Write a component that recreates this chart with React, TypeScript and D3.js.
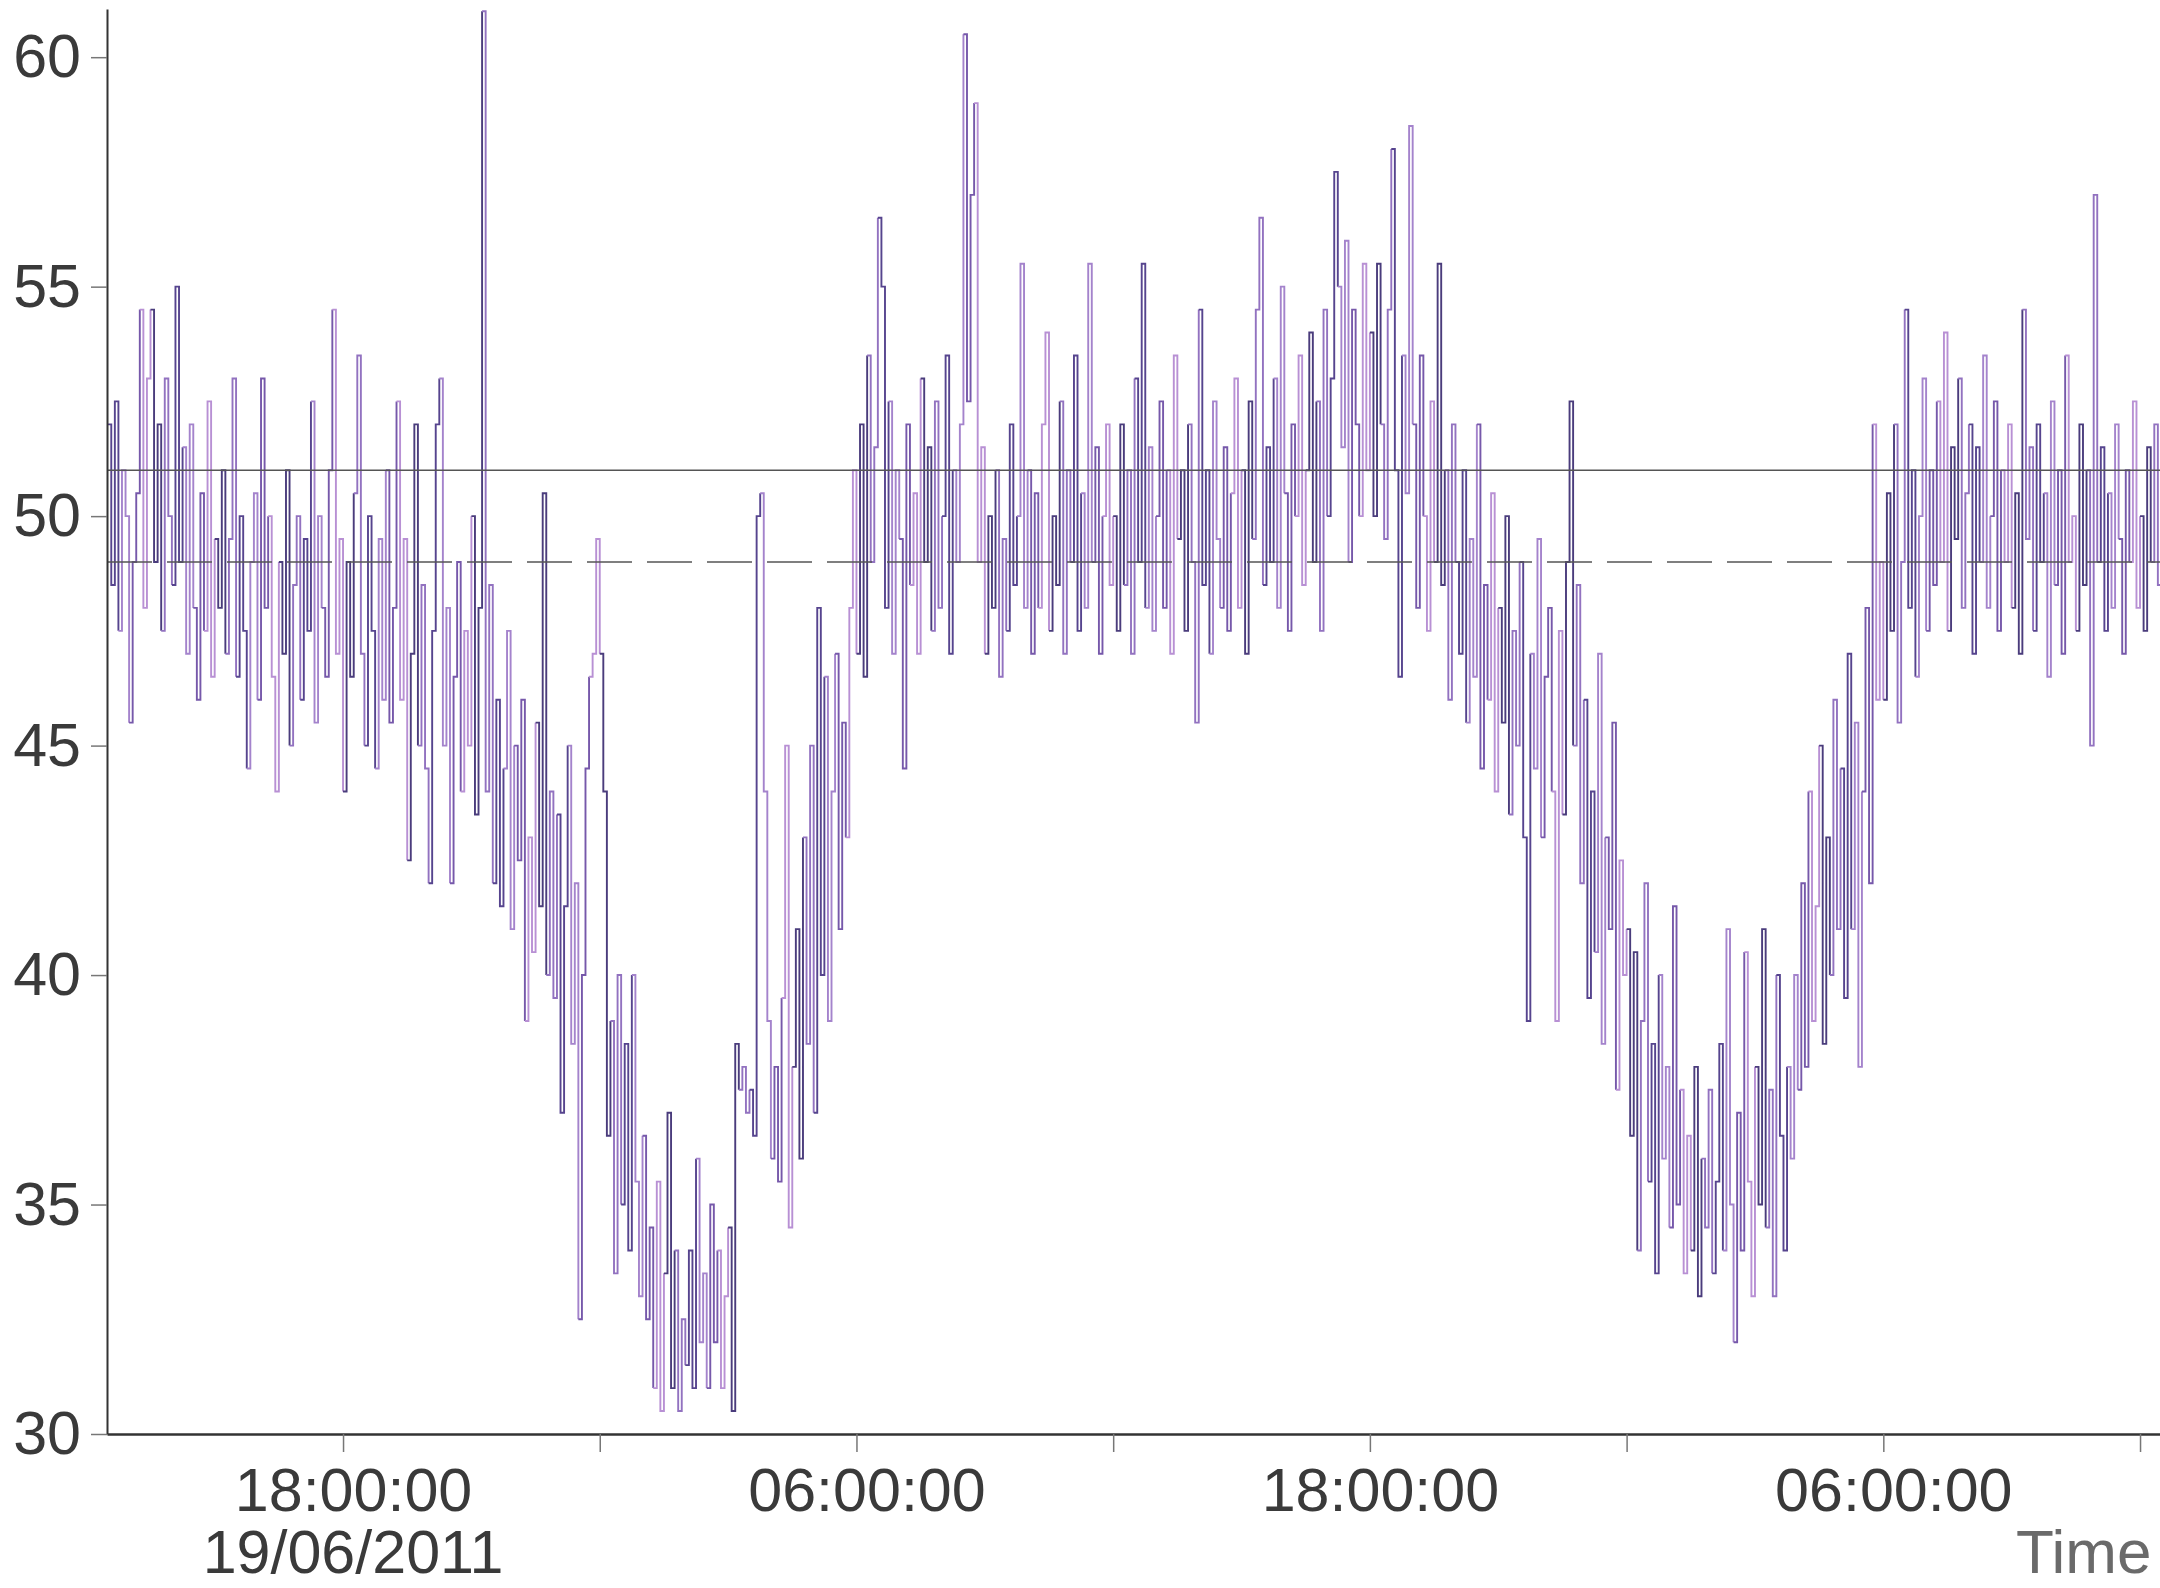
import { useEffect, useRef } from "react";
import * as d3 from "d3";

// readings every 5 minutes, one array per 6-hour block (start time in the name)
const d19_1230 = [
  52, 48.5, 52.5, 47.5, 51, 50, 45.5, 49,
  50.5, 54.5, 48, 53, 54.5, 49, 52, 47.5, 53, 50, 48.5, 55, 49,
  51.5, 47, 52, 48, 46, 50.5, 47.5, 52.5, 46.5, 49.5, 48, 51,
  47, 49.5, 53, 46.5, 50, 47.5, 44.5, 49, 50.5, 46, 53, 48, 50, 46.5, 44,
  49, 47, 51, 45, 48.5, 50, 46, 49.5, 47.5, 52.5, 45.5, 50, 48, 46.5, 51, 54.5, 47, 49.5,
];
const d19_1800 = [
  44, 49, 46.5, 50.5, 53.5, 47, 45, 50, 47.5, 44.5, 49.5, 46, 51, 45.5, 48, 52.5, 46,
  49.5, 42.5, 47, 52, 45, 48.5, 44.5, 42, 47.5, 52, 53, 45, 48, 42, 46.5, 49, 44, 47.5, 45,
  50, 43.5, 48, 61, 44, 48.5, 42, 46,
  41.5, 44.5, 47.5, 41, 45, 42.5, 46, 39, 43, 40.5, 45.5, 41.5, 50.5, 40, 44,
  39.5, 43.5, 37, 41.5, 45, 38.5, 42, 32.5, 40, 44.5, 46.5, 47, 49.5,
];
const d20_0000 = [
  47, 44, 36.5, 39, 33.5, 40, 35, 38.5, 34, 40, 35.5, 33, 36.5, 32.5, 34.5,
  31, 35.5, 30.5, 33.5, 37, 31, 34, 30.5, 32.5, 31.5, 34, 31, 36, 32, 33.5, 31, 35, 32, 34, 31, 33, 34.5, 30.5,
  38.5, 37.5, 38, 37, 37.5, 36.5,
  50, 50.5,
  44, 39, 36, 38,
  35.5, 39.5, 45, 34.5, 38, 41,
  36, 43, 38.5, 45, 37, 48, 40,
  46.5, 39, 44, 47, 41, 45.5, 43, 48,
  51,
];
const d20_0600 = [
  47, 52, 46.5, 53.5, 49, 51.5, 56.5, 55,
  48, 52.5, 47, 51, 49.5, 44.5, 52, 48.5, 50.5, 47, 53, 49, 51.5, 47.5, 52.5, 48, 50, 53.5, 47, 51, 49, 52,
  60.5, 52.5, 57, 59, 49,
  51.5, 47, 50, 48, 51, 46.5, 49.5, 47.5, 52, 48.5, 50,
  55.5, 48, 51, 47, 50.5, 48, 52, 54, 47.5,
  50, 48.5, 52.5, 47, 51, 49, 53.5, 47.5, 50.5, 48, 55.5, 49, 51.5, 47, 50, 52, 48.5,
];
const d20_1200 = [
  50, 47.5, 52, 48.5, 51, 47, 53, 49, 55.5, 48, 51.5, 47.5, 50, 52.5, 48, 51, 47,
  53.5, 49.5, 51, 47.5, 52, 49, 45.5, 54.5, 48.5, 51, 47, 52.5, 49.5, 48, 51.5, 47.5, 50.5,
  53, 48, 51, 47, 52.5, 49.5, 54.5, 56.5, 48.5, 51.5, 49, 53, 48, 55, 50.5, 47.5, 52, 50,
  53.5, 48.5, 51, 54, 49, 52.5, 47.5, 54.5, 50, 53, 57.5, 55, 51.5, 56, 49, 54.5, 52, 50, 55.5, 51,
];
const d20_1800 = [
  54, 50, 55.5, 52, 49.5, 54.5, 58, 51, 46.5, 53.5,
  50.5, 58.5, 52,
  48, 53.5, 50, 47.5, 52.5, 49, 55.5, 48.5, 51, 46, 52, 49, 47,
  51, 45.5, 49.5, 46.5, 52, 44.5, 48.5, 46, 50.5, 44, 48, 45.5,
  50, 43.5, 47.5, 45, 49, 43, 39, 47, 44.5, 49.5, 43, 46.5, 48, 44, 39, 47.5, 43.5, 49, 52.5,
  45, 48.5, 42, 46, 39.5, 44, 40.5, 47, 38.5, 43, 41, 45.5, 37.5, 42.5, 40,
];
const d21_0000 = [
  41, 36.5, 40.5, 34, 39, 42, 35.5, 38.5, 33.5, 40, 36, 38, 34.5, 41.5,
  35, 37.5, 33.5, 36.5, 34, 38, 33, 36, 34.5, 37.5, 33.5, 35.5, 38.5, 34, 41, 35,
  32, 37, 34, 40.5, 35.5, 33, 38, 35, 41, 34.5, 37.5, 33, 40, 36.5, 34, 38,
  36, 40, 37.5, 42, 38, 44, 39, 41.5, 45, 38.5, 43, 40, 46, 41, 44.5, 39.5,
  47, 41, 45.5, 38, 44, 48, 42, 52, 46, 49,
];
const d21_0600 = [
  46, 50.5, 47.5, 52, 45.5, 49, 54.5, 48, 51, 46.5, 50, 53, 47.5,
  51, 48.5, 52.5, 49, 54, 47.5, 51.5, 49.5, 53, 48, 50.5, 52, 47, 51.5, 49, 53.5, 48, 50, 52.5, 47.5, 51, 49, 52,
  48, 50.5, 47, 54.5, 49.5, 51.5, 47.5, 52, 49, 50.5, 46.5, 52.5, 48.5, 51, 47, 53.5, 49, 50, 47.5, 52, 48.5, 51,
  45, 57, 49,
  51.5, 47.5, 50.5, 48, 52, 49.5, 47, 51, 49, 52.5, 48, 50, 47.5, 51.5, 49, 52, 48.5, 50,
];

const blockStarts = [
  "2011-06-19 12:30", "2011-06-19 18:00", "2011-06-20 00:00", "2011-06-20 06:00",
  "2011-06-20 12:00", "2011-06-20 18:00", "2011-06-21 00:00", "2011-06-21 06:00",
];
const blocks = [d19_1230, d19_1800, d20_0000, d20_0600, d20_1200, d20_1800, d21_0000, d21_0600];

const xTicks = [
  "2011-06-19 18:00", "2011-06-20 00:00", "2011-06-20 06:00", "2011-06-20 12:00",
  "2011-06-20 18:00", "2011-06-21 00:00", "2011-06-21 06:00", "2011-06-21 12:00",
];
const yTicks = [30, 35, 40, 45, 50, 55, 60];
const limits = [51, 49]; // upper (solid) and lower (dashed) limit
const dateLabel = "19/06/2011";
const xTitle = "Time";

export default function App() {
  const ref = useRef<SVGSVGElement>(null);

  useEffect(() => {
    document.body.style.margin = "0";
    const width = 2160;
    const height = 1588;
    const font = "'Liberation Sans', Arial, sans-serif";
    const parse = d3.timeParse("%Y-%m-%d %H:%M")!;

    const data = blocks.flatMap((vals, b) => {
      const s = parse(blockStarts[b])!;
      return vals.map((v, i) => ({ t: d3.timeMinute.offset(s, i * 5), v }));
    });

    const svg = d3.select(ref.current);
    svg.selectAll("*").remove();
    svg.attr("width", width).attr("height", height).attr("viewBox", [0, 0, width, height]);

    const x = d3.scaleTime(
      [parse("2011-06-19 12:29")!, parse("2011-06-21 12:28")!],
      [107, width]
    );
    const y = d3.scaleLinear([30, 61.05], [1434, 9]);

    // data, as a step line split in short runs so the shades alternate
    const line = d3.line<{ t: Date; v: number }>()
      .x(d => x(d.t))
      .y(d => y(d.v))
      .curve(d3.curveStepAfter);
    const shades = ["#56448e", "#a483cc", "#7658aa", "#b890d4", "#4a3c7c", "#9272c0"];
    const g = svg.append("g").attr("fill", "none").attr("stroke-width", 1.9);
    for (let k = 0, c = 0; k < data.length - 1; k += 3, c++) {
      g.append("path")
        .attr("stroke", shades[c % shades.length])
        .attr("d", line(data.slice(k, k + 4)));
    }

    // limit lines
    svg.selectAll(".limit")
      .data(limits)
      .join("line")
      .attr("x1", x.range()[0])
      .attr("x2", width)
      .attr("y1", d => y(d))
      .attr("y2", d => y(d))
      .attr("stroke", "#555")
      .attr("stroke-width", 1.6)
      .attr("stroke-dasharray", (_, i) => (i ? "45,15" : null));

    // y axis
    svg.append("g")
      .attr("transform", `translate(107,0)`)
      .call(d3.axisLeft(y).tickValues(yTicks).tickSize(16).tickSizeOuter(0).tickPadding(10))
      .call(a => a.attr("font-family", font).attr("font-size", 61))
      .call(a => a.selectAll("path, line").attr("stroke", "#333").attr("stroke-width", 2))
      .call(a => a.selectAll(".tick line").attr("stroke", "#777").attr("stroke-width", 1.5))
      .call(a => a.selectAll("text").attr("fill", "#3a3a3a"));

    // x axis
    const fmt = d3.timeFormat("%H:%M:%S");
    svg.append("g")
      .attr("transform", `translate(0,1434)`)
      .call(
        d3.axisBottom(x)
          .tickValues(xTicks.map(s => parse(s)!))
          .tickSize(18)
          .tickSizeOuter(0)
          .tickFormat(d => ((d as Date).getHours() % 12 === 6 ? fmt(d as Date) : ""))
      )
      .call(a => a.attr("font-family", font).attr("font-size", 61))
      .call(a => a.selectAll("path").attr("stroke", "#333").attr("stroke-width", 2.5))
      .call(a => a.selectAll(".tick line").attr("stroke", "#777").attr("stroke-width", 1.5))
      .call(a => a.selectAll("text").attr("fill", "#3a3a3a").attr("y", 77).attr("dy", null).attr("dx", 10));

    svg.append("text")
      .attr("x", x(parse(xTicks[0])!) + 10)
      .attr("y", 1573)
      .attr("text-anchor", "middle")
      .attr("font-family", font)
      .attr("font-size", 61)
      .attr("fill", "#3a3a3a")
      .text(dateLabel);

    svg.append("text")
      .attr("x", 2016)
      .attr("y", 1573)
      .attr("font-family", font)
      .attr("font-size", 62)
      .attr("fill", "#6a6a6a")
      .text(xTitle);
  }, []);

  return <svg ref={ref} style={{ display: "block", background: "#fff" }}></svg>;
}
